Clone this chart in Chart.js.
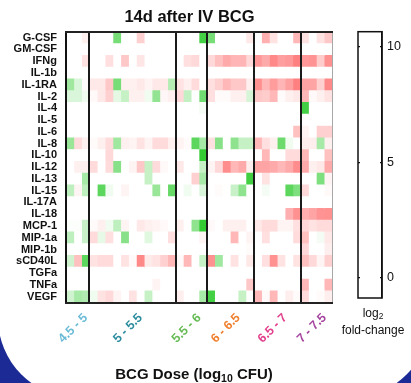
<!DOCTYPE html>
<html>
<head>
<meta charset="utf-8">
<script src="https://cdn.jsdelivr.net/npm/chart.js@4.4.1/dist/chart.umd.min.js"></script>
<style>
  html, body { margin: 0; padding: 0; }
  body { width: 411px; height: 383px; overflow: hidden; font-family: "Liberation Sans", Arial, sans-serif; }
  #page { position: relative; width: 411px; height: 383px; overflow: hidden; background: #1b2a94; }
  #card { position: absolute; left: -2px; top: -100px; width: 432px; height: 498px; border-radius: 80px; background: #fff; }
  canvas { position: absolute; top: 0; }
  #heat { left: 0; }
  #bar { left: 340px; }
  #xtitle { position: absolute; left: 0; width: 388px; top: 366px; text-align: center; font-weight: bold; font-size: 15px; line-height: 15px; color: #111; }
  #cbtitle { position: absolute; left: 333px; width: 80px; top: 305px; text-align: center; font-size: 12px; line-height: 17px; color: #111; white-space: nowrap; }
  sub { font-size: 0.7em; line-height: 0; position: relative; top: 0.25em; vertical-align: baseline; }
</style>
</head>
<body>
<div id="page">
  <div id="card"></div>
  <canvas id="heat" width="379" height="383"></canvas>
  <canvas id="bar" width="71" height="383"></canvas>
  <div id="xtitle">BCG Dose (log<sub>10</sub> CFU)</div>
  <div id="cbtitle">log<sub>2</sub><br>fold-change</div>
</div>
<script>
const cytokines = ['G-CSF', 'GM-CSF', 'IFNg', 'IL-1b', 'IL-1RA', 'IL-2', 'IL-4', 'IL-5', 'IL-6', 'IL-8', 'IL-10',
  'IL-12', 'IL-13', 'IL-15', 'IL-17A', 'IL-18', 'MCP-1', 'MIP-1a', 'MIP-1b', 'sCD40L', 'TGFa', 'TNFa', 'VEGF'];

const doseGroups  = ['4.5 - 5', '5 - 5.5', '5.5 - 6', '6 - 6.5', '6.5 - 7', '7 - 7.5'];
const groupSizes  = [3, 11, 4, 6, 6, 4];   // animals per dose bin
const groupColors = ['#6bbbd6', '#2b8c9e', '#66bb55', '#f07f2e', '#e2408c', '#a4449e'];

const cbTicks = [0, 5, 10];

// log2 fold-change, one row per cytokine, one column per animal
const foldChange = [
  [0,0,0.35,0,0,0,-2.0,0,0,1.1, 0,0,0,0,0,0,0,-2.75,-2.0,0, 0,0,0,0.55,0,1.9,0.65,0,0,1.7, 0.65,0,0.65,1.3],
  [0,0,0,0,0,0,0,0,0,0, 0,0,0,0,0,0,0,0,0,0, 0,0,0,0,0,0,0,0,0,0, 0,0,0,0],
  [0,0,0.65,0,0,0.75,0,1.3,0,0.6, 0,0,0,0,0,0.75,0.9,0,0.9,1.5, 2.0,1.75,1.75,0.9,2.4,2.0,2.8,2.3,2.4,3.0, 2.4,2.55,1.2,2.6],
  [0,0,0,0,0,0,0,0,0,0, 0,0,0,0,0,0,0,0,0,0, 0,0,0,0,0,0,0,0,0,0, 0,0,0,0],
  [-1.4,-0.55,0.1,0.55,0.55,1.3,-2.0,0.35,0.35,0.55, 0.25,0.55,0.55,-1.1,0.65,0.35,0.85,0,0.75,1.1, 1.7,1.3,1.3,0.35,2.6,1.7,2.35,1.75,2.25,3.0, 2.15,2.15,1.1,2.8],
  [-0.55,-0.55,-0.2,0.15,0.55,1.1,-0.4,-0.85,0.35,0.35, -0.2,-1.6,0.2,0.35,0.9,-0.9,0,-2.1,0.75,0.1, 0.1,0.35,0.35,-0.6,1.3,1.2,1.7,0.1,0.35,0.55, 1.7,0.15,0.35,0.65],
  [0,0,0,0,0,0,0,0,0,0, 0,0,0,0,0,0,0,-0.15,0,0, 0,0,0,0,0,0,0,0,0,0, -2.75,0,0,0],
  [0,0,0,0,0,0,0,0,0,0, 0,0,0,0,0,0,0,0,0,0, 0,0,0,0,0,0,0,0,0,0, 0,0,0,0],
  [0,0,0,0,0,0,0,0,0,0, 0,0,0,0,0,0,0,0,0,0, 0,0,0,0,0,0,0,0,0,1.5, 0.25,0,1.1,1.1],
  [-1.5,0.85,0.35,0.1,0.35,0.85,-1.4,0.35,0.25,0.65, 0.25,0.85,0.85,0.35,0.25,0.1,-2.4,-1.3,0.75,-1.75, 0,-1.65,-0.85,-0.85,1.7,0.75,0.35,-2.15,-0.2,0, 0.4,0.4,-1.3,0.35],
  [0,0,0,0,0,0.9,0,0,0,0, 0,0,0,0,0,0,0,-3.0,0,0, 0,0,0,0,0,1.7,0,0,0.85,0.85, 1.7,0,0,1.5],
  [0,0.35,0.35,0.85,0,0.85,-1.75,0,0.25,1.3, -0.85,0.85,0.15,0,0.55,0,0,-0.85,0.25,0.9, 2.7,1.7,2.0,0.4,2.15,2.15,2.0,1.7,2.0,2.7, 2.0,0.35,0.55,2.0],
  [0,0,-1.3,0,0,0,0,0,0,0, -0.85,0,0,0,0,0,1.1,-1.3,0,0, 0,0,0,-2.8,0,0.65,0,0,0,0, 0,0,-1.9,0.25],
  [-0.95,0.25,-0.95,0,-2.4,-0.2,0,0.25,0,0, 0,-1.5,0,-2.25,0,-0.2,0,-0.55,0,0.1, 0,-0.8,-1.65,0,0,-0.15,0,0,-2.4,-1.9, 0.9,0,0,0.15],
  [0,0,0,0,0,0,0,0,0,0, 0,0,0,0,0,0,0,0,0,0, 0,0,0,0,0,0,0,0,0,0, 0,0,0,0],
  [0,0,0,0,0,0,0,0,0,0, 0,0,0,0,0,0,0,0,0,0, 0,0,0,0,0,0,0,0,1.9,2.6, 1.9,2.15,2.55,2.6],
  [-0.05,-0.05,-0.8,0.1,0.35,-0.2,-0.95,0.25,0,0.55, 0.35,0.25,0.15,0,0.35,0,-1.65,-3.0,0.15,0, 0.35,0.35,0.35,0,0.55,0.85,0.85,0.25,0.25,0.75, 0.9,0.65,0.85,0.85],
  [-0.95,0,-0.8,0.85,-0.35,0.75,0,-1.75,0,0, -0.45,0,0,0.75,0,0,0,0.25,0,0, 0,1.7,0,0.25,0,0.75,0,0,0,0.85, 1.5,0,-0.15,0.55],
  [0,0,0,0,0,0,0,0,0,0, 0,0,0,0,0,0,0,0,0,0, 0,0,0,0.1,0,0,0,0,0,0, 0.9,0,0,0.4],
  [-0.7,1.5,-2.4,0.65,0.85,0.85,0,0.65,0.15,2.8, 0.5,0.65,1.1,1.7,0.15,1.7,0,-0.85,2.6,-1.4, 0,0.65,0,0.55,0,0.75,2.6,0.65,0,0.65, 1.5,0.9,0.25,1.1],
  [0,0,0,0,0,0,0,0,0,0, 0,0,0,0,0,0,0,0,0,0, 0,0,0,0,0,0,0,0,0,0, 0,0,0,0],
  [0,0,0,0,0,0,0,0,0,0, 0,0.25,0,0,0,0,0,0,0,0, 0,0,0,1.3,0,0,0,0,0,0, 1.7,0,0,1.7],
  [-0.7,-1.3,-1.15,-0.2,0.65,0.9,0.25,0,0.65,0, -0.85,0,0,0,0.4,0,0,-1.3,-2.75,0, 0,0,-0.85,0,1.7,0.15,1.7,0,0.4,0.1, 0.85,0,0.1,0.4]
];

const nCols = groupSizes.reduce((a, b) => a + b, 0);
const bounds = [];
const centers = [];
let acc = 0;
groupSizes.forEach(n => { centers.push(acc + n / 2); acc += n; bounds.push(acc); });

// white -> red for up, white -> green for down
function heat(v) {
  const t = Math.min(Math.abs(v) / 3, 1);
  if (v > 0) {
    const c = Math.round(255 - 127 * t);
    return `rgb(255,${c},${c})`;
  }
  const rb = Math.round(255 - 204 * t), g = Math.round(255 - 51 * t);
  return `rgb(${rb},${g},${rb})`;
}

Chart.defaults.font.family = "'Liberation Sans', Arial, sans-serif";
Chart.defaults.color = '#111';

const datasets = [];
for (let k = 0; k < nCols; k++) {
  datasets.push({
    data: cytokines.map(() => 1),
    backgroundColor: foldChange.map(row => heat(row[k])),
    borderWidth: 0,
    barPercentage: 1,
    categoryPercentage: 1
  });
}

new Chart(document.getElementById('heat'), {
  type: 'bar',
  data: { labels: cytokines, datasets: datasets },
  options: {
    indexAxis: 'y',
    responsive: false,
    animation: false,
    layout: { padding: 0 },
    plugins: {
      legend: { display: false },
      tooltip: { enabled: false },
      title: {
        display: true,
        text: '14d after IV BCG',
        color: '#111',
        font: { size: 16.5, weight: 'bold' },
        padding: { top: 8, bottom: 4 }
      }
    },
    scales: {
      y: {
        stacked: true,
        grid: { display: false, drawTicks: false },
        border: { display: true, color: '#111', width: 2, z: 1 },
        ticks: { autoSkip: false, color: '#111', font: { size: 11, weight: 'bold' }, padding: 9 },
        afterFit: s => { s.width = 66; }
      },
      // empty space kept free for the colour bar
      gap: {
        type: 'linear',
        position: 'right',
        min: 0,
        max: 1,
        grid: { display: false, drawTicks: false },
        border: { display: false },
        ticks: { display: false },
        afterFit: s => { s.width = 47; }
      },
      x: {
        type: 'linear',
        stacked: true,
        min: 0,
        max: nCols,
        afterBuildTicks: s => { s.ticks = bounds.map(v => ({ value: v })); },
        grid: {
          drawTicks: false,
          z: 1,
          color: c => c.tick && c.tick.value === nCols ? '#a8a8a8' : '#1a1a1a',
          lineWidth: c => c.tick && c.tick.value === nCols ? 1 : 2
        },
        border: { display: true, color: '#222', width: 2, z: 1 },
        ticks: { display: false },
        afterFit: s => { s.height = 0; }
      },
      xTop: {
        type: 'linear',
        position: 'top',
        min: 0,
        max: nCols,
        grid: { display: false, drawTicks: false },
        border: { display: true, color: '#222', width: 2, z: 1 },
        ticks: { display: false },
        afterFit: s => { s.height = 0; }
      },
      dose: {
        type: 'linear',
        position: 'bottom',
        min: 0,
        max: nCols,
        afterBuildTicks: s => { s.ticks = centers.map(v => ({ value: v })); },
        grid: { display: false, drawTicks: false },
        border: { display: false },
        ticks: {
          autoSkip: false,
          minRotation: 45,
          maxRotation: 45,
          padding: 8,
          labelOffset: 8,
          font: { size: 12.5, weight: 'bold' },
          color: c => groupColors[c.index],
          callback: (v, i) => doseGroups[i]
        },
        afterFit: s => { s.height = 80.5; }
      }
    }
  }
});

// outline of the colour bar
const frame = {
  id: 'frame',
  afterDraw(chart) {
    const a = chart.chartArea, ctx = chart.ctx;
    ctx.save();
    ctx.strokeStyle = '#111';
    ctx.lineWidth = 1.5;
    ctx.strokeRect(a.left, a.top, a.right - a.left, a.bottom - a.top);
    ctx.restore();
  }
};

new Chart(document.getElementById('bar'), {
  type: 'scatter',
  data: { datasets: [] },
  options: {
    responsive: false,
    animation: false,
    layout: { padding: { left: 18, top: 31.7, bottom: 85 } },
    plugins: { legend: { display: false }, tooltip: { enabled: false } },
    scales: {
      x: { display: false, min: 0, max: 1 },
      y: {
        position: 'right',
        min: -0.87,
        max: 10.65,
        afterBuildTicks: s => { s.ticks = cbTicks.map(v => ({ value: v })); },
        grid: { color: '#111', lineWidth: 1.2, drawTicks: false },
        border: { display: true, color: '#111', width: 1.5, dash: [2, 20] },
        ticks: { color: '#111', font: { size: 12.5 }, padding: 5 },
        afterFit: s => { s.width = 29; }
      }
    }
  },
  plugins: [frame]
});
</script>
</body>
</html>
